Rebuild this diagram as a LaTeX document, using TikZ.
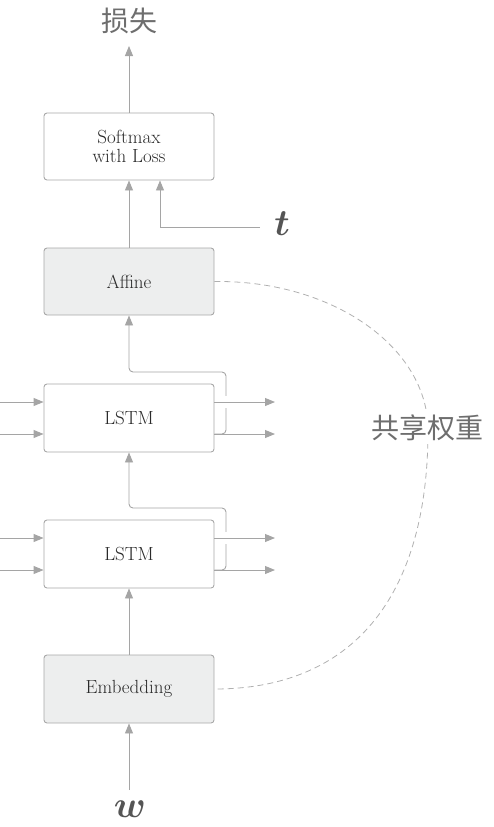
\documentclass[tikz,border=0pt]{standalone}
\usepackage{fontspec}
\usepackage{amsmath,bm}
\newfontfamily\cjk{Noto Sans CJK SC}
\usetikzlibrary{arrows.meta}
\definecolor{linegray}{HTML}{A5A5A5}
\definecolor{boxgray}{HTML}{A8A8A8}
\definecolor{fillgray}{HTML}{EDEEEE}
\definecolor{txtgray}{HTML}{2A2A2A}
\definecolor{lblgray}{HTML}{6E6E6E}
\definecolor{mathgray}{HTML}{555555}
\definecolor{dashgray}{HTML}{B0B0B0}
\begin{document}
\begin{tikzpicture}[x=1pt,y=-1pt,
  layerbox/.style={draw=boxgray, line width=0.9pt, rounded corners=3pt, fill=white,
    minimum width=170pt, minimum height=67pt, inner sep=0pt, align=center,
    text=txtgray, font=\fontsize{19}{19.5}\selectfont},
  shadedbox/.style={layerbox, fill=fillgray},
  conn/.style={draw=linegray, line width=0.9pt},
  arr/.style={conn, -{Triangle[length=10pt,width=8pt]}},
  cjklabel/.style={text=lblgray, font=\cjk\fontsize{28}{30}\selectfont, inner sep=2pt},
  mathlabel/.style={text=mathgray, font=\fontsize{24.88}{26}\selectfont, inner sep=0pt}
]
\useasboundingbox (0,0) rectangle (493,827);

% boxes
\node[layerbox] (softmax) at (129,146.5) {Softmax\\with Loss};
\node[shadedbox] (affine) at (129,281.5) {Affine};
\node[layerbox, minimum height=68pt] (lstmB) at (129,418) {LSTM};
\node[layerbox, minimum height=68pt] (lstmA) at (129,554) {LSTM};
\node[shadedbox, minimum height=68pt] (emb) at (129,689) {Embedding};

% labels
\node[cjklabel] (loss) at (129,21) {损失};
\node[mathlabel] (tlab) at (282,224) {\scalebox{1.5}{$\bm{t}$}};
\node[mathlabel] (wlab) at (130,809) {\scalebox{1.5}{$\bm{w}$}};

% coordinates
\coordinate (losstip) at (129,46);
\coordinate (tstart) at (260,227);
\path (softmax.south) ++(31,0) coordinate (tend);
\coordinate (wstart) at (129,790);

\coordinate (inBa) at (0,402);
\coordinate (inBb) at (0,434);
\coordinate (inAa) at (0,538);
\coordinate (inAb) at (0,570);
\coordinate (outBa) at (275,402);
\coordinate (outBb) at (275,434);
\coordinate (outAa) at (275,538);
\coordinate (outAb) at (275,570);
\coordinate (bendB) at (226,372);
\coordinate (bendA) at (226,508);

% vertical flow
\draw[arr] (softmax.north) -- (losstip);
\draw[arr] (affine.north) -- (softmax.south);
\draw[arr] (tstart) -| (tend);
\draw[arr] (emb.north) -- (lstmA.south);
\draw[arr] (wstart) -- (emb.south);

% branches from lstm outputs up to the next layer
\draw[arr, rounded corners=4pt] (lstmB.east |- outBb) -| (bendB) -| (affine.south);
\draw[arr, rounded corners=4pt] (lstmA.east |- outAb) -| (bendA) -| (lstmB.south);

% line hops
\draw[white, line width=12pt] (222.5,402) -- (229.5,402);
\draw[white, line width=12pt] (222.5,538) -- (229.5,538);

% inputs
\draw[arr] (inBa) -- (inBa -| lstmB.west);
\draw[arr] (inBb) -- (inBb -| lstmB.west);
\draw[arr] (inAa) -- (inAa -| lstmA.west);
\draw[arr] (inAb) -- (inAb -| lstmA.west);

% outputs
\draw[arr] (lstmB.east |- outBa) -- (outBa);
\draw[arr] (lstmB.east |- outBb) -- (outBb);
\draw[arr] (lstmA.east |- outAa) -- (outAa);
\draw[arr] (lstmA.east |- outAb) -- (outAb);

% shared weights
\draw[draw=dashgray, line width=0.8pt, dash pattern=on 6pt off 4pt]
  (affine.east) .. controls (332,280) and (428,347) .. (428,430)
  .. controls (428,600) and (350,689) .. (emb.east);
\node[cjklabel, fill=white, inner sep=3pt] (shared) at (427,428) {共享权重};
\end{tikzpicture}
\end{document}
